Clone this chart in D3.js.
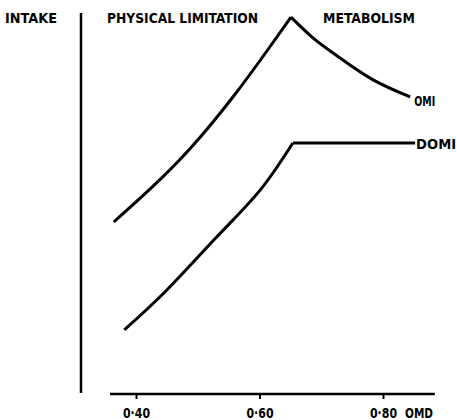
<!DOCTYPE html>
<style>
  body { margin: 0; background: #fff; }
  .lbl { font-family: "DejaVu Sans Condensed", "Liberation Sans Narrow", sans-serif; font-weight: bold; font-size: 14px; fill: #000; }
</style>
<svg id="chart" width="457" height="420"></svg>
<script src="https://cdnjs.cloudflare.com/ajax/libs/d3/7.8.5/d3.min.js"></script>
<script>
// OMD vs intake (arbitrary units 0-100)
var omiOmd    = [0.364, 0.423, 0.487, 0.557, 0.612, 0.651, 0.687, 0.730, 0.784, 0.844];
var omiIntake = [45.0, 53.7, 64.2, 77.9, 90.0, 98.9, 93.4, 88.2, 82.4, 77.9];
var domiOmd    = [0.381, 0.450, 0.531, 0.601, 0.654, 0.852];
var domiIntake = [16.6, 27.1, 41.1, 53.4, 65.8, 65.8];
var tickValues = [0.40, 0.60, 0.80];
var tickLabels = ["0·40", "0·60", "0·80"];

var svg = d3.select("#chart");

var x = d3.scaleLinear().domain([0.4, 0.8]).range([136, 383]);
var y = d3.scaleLinear().domain([0, 100]).range([393, 13]);

var line = d3.line()
    .x(function(d) { return x(d[0]); })
    .y(function(d) { return y(d[1]); })
    .curve(d3.curveNatural);

var omi = d3.zip(omiOmd, omiIntake);
var domi = d3.zip(domiOmd, domiIntake);

// y axis (no ticks)
svg.append("line")
    .attr("x1", 81).attr("x2", 81)
    .attr("y1", y(100)).attr("y2", y(0))
    .attr("stroke", "#000").attr("stroke-width", 2.5);

// x axis
var xAxis = svg.append("g")
    .attr("transform", "translate(0," + 394 + ")")
    .call(d3.axisBottom(x).tickValues(tickValues).tickSize(5).tickFormat(function(d, i) { return tickLabels[i]; }));
xAxis.attr("font-family", null).attr("font-size", null);
xAxis.select(".domain").remove();
xAxis.append("line")
    .attr("x1", x(0.358)).attr("x2", x(0.884))
    .attr("stroke", "#000").attr("stroke-width", 2.5);
xAxis.selectAll(".tick line").attr("stroke", "#000").attr("stroke-width", 2);
xAxis.selectAll(".tick text")
    .attr("class", "lbl")
    .attr("y", 24)
    .attr("dy", null)
    .attr("textLength", 27).attr("lengthAdjust", "spacingAndGlyphs");

svg.append("text").attr("class", "lbl")
    .attr("x", 405).attr("y", 418)
    .attr("textLength", 28).attr("lengthAdjust", "spacingAndGlyphs").text("OMD");

// curves: rising (physical limitation) and falling (metabolism) parts drawn separately
function drawCurve(pts, peak) {
  [pts.slice(0, peak + 1), pts.slice(peak)].forEach(function(seg) {
    svg.append("path").datum(seg)
        .attr("fill", "none").attr("stroke", "#000").attr("stroke-width", 3)
        .attr("stroke-linejoin", "round").attr("d", line);
  });
}
drawCurve(omi, 5);
drawCurve(domi, 4);

// labels
svg.append("text").attr("class", "lbl")
    .attr("x", x(omiOmd[omiOmd.length - 1]) + 4).attr("y", y(omiIntake[omiIntake.length - 1]) + 9)
    .attr("textLength", 21).attr("lengthAdjust", "spacingAndGlyphs")
    .text("OMI");
svg.append("text").attr("class", "lbl")
    .attr("x", x(domiOmd[domiOmd.length - 1]) + 1).attr("y", y(domiIntake[domiIntake.length - 1]) + 6)
    .attr("textLength", 40).attr("lengthAdjust", "spacingAndGlyphs")
    .text("DOMI");

svg.append("text").attr("class", "lbl").attr("x", 5).attr("y", 23)
    .attr("textLength", 52).attr("lengthAdjust", "spacingAndGlyphs").text("INTAKE");
svg.append("text").attr("class", "lbl").attr("x", 107).attr("y", 23)
    .attr("textLength", 151).attr("lengthAdjust", "spacingAndGlyphs").text("PHYSICAL LIMITATION");
svg.append("text").attr("class", "lbl").attr("x", 323).attr("y", 23)
    .attr("textLength", 92).attr("lengthAdjust", "spacingAndGlyphs").text("METABOLISM");
</script>
